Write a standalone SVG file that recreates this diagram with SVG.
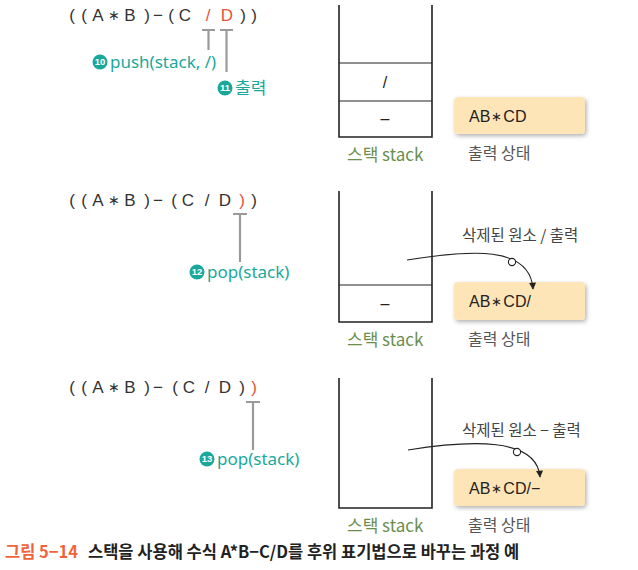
<svg xmlns="http://www.w3.org/2000/svg" width="638" height="570" viewBox="0 0 638 570">
<style>
.ex{font-family:"Liberation Sans","Noto Sans",sans-serif;font-size:17px;fill:#333;text-anchor:middle}
.exa{font-size:14px}
.red{fill:#e8533a}
.tick{stroke:#9a9a9a;stroke-width:2.2;fill:none}
.lbl{font-family:"Noto Sans","Noto Sans CJK KR",sans-serif;font-size:17px;fill:#1aa89c}
.num{font-family:"Liberation Sans",sans-serif;font-size:9.5px;font-weight:bold;fill:#fff;text-anchor:middle}
.badge{fill:#1aa89c}
.stk{stroke:#222;stroke-width:1.6;fill:none}
.div{stroke:#222;stroke-width:1.2}
.cell{font-family:"Liberation Sans",sans-serif;font-size:16px;fill:#222;text-anchor:middle}
.stl{font-family:"Noto Sans CJK KR",sans-serif;font-size:17px;fill:#6b8e4e}
.box{fill:#fde5b7}
.out{font-family:"Liberation Sans","Noto Sans",sans-serif;font-size:16px;fill:#222}
.ast{font-size:13px}
.ost{font-family:"Noto Sans CJK KR",sans-serif;font-size:16px;fill:#555}
.del{font-family:"Noto Sans CJK KR",sans-serif;font-size:15.5px;fill:#444}
.arr{stroke:#222;stroke-width:1.1;fill:none}
.cap{font-family:"Noto Sans CJK KR",sans-serif;font-size:16.5px;font-weight:bold}
</style>
<defs>
<filter id="sh" x="-10%" y="-20%" width="130%" height="160%">
<feDropShadow dx="1.5" dy="2" stdDeviation="2" flood-color="#000" flood-opacity="0.3"/>
</filter>
<marker id="ah" viewBox="0 0 10 10" refX="9" refY="5" markerWidth="9" markerHeight="7" orient="auto" markerUnits="userSpaceOnUse">
<path d="M0,0 L10,5 L0,10 z" fill="#222"/>
</marker>
</defs>

<g id="expr1">
<text class="ex" y="21"><tspan x="72">(</tspan><tspan x="84">(</tspan><tspan x="98">A</tspan><tspan x="114" class="exa" dy="-1">∗</tspan><tspan x="130" dy="1">B</tspan><tspan x="147">)</tspan><tspan x="158">−</tspan><tspan x="171">(</tspan><tspan x="185">C</tspan><tspan x="208" class="red">/</tspan><tspan x="227" class="red">D</tspan><tspan x="243">)</tspan><tspan x="254">)</tspan></text>
</g>
<g id="expr2">
<text class="ex" y="206"><tspan x="72">(</tspan><tspan x="84">(</tspan><tspan x="98">A</tspan><tspan x="114" class="exa" dy="-1">∗</tspan><tspan x="130" dy="1">B</tspan><tspan x="147">)</tspan><tspan x="158">−</tspan><tspan x="174">(</tspan><tspan x="188">C</tspan><tspan x="207">/</tspan><tspan x="225">D</tspan><tspan x="242" class="red">)</tspan><tspan x="254">)</tspan></text>
</g>
<g id="expr3">
<text class="ex" y="393"><tspan x="72">(</tspan><tspan x="84">(</tspan><tspan x="98">A</tspan><tspan x="114" class="exa" dy="-1">∗</tspan><tspan x="130" dy="1">B</tspan><tspan x="147">)</tspan><tspan x="158">−</tspan><tspan x="175">(</tspan><tspan x="189">C</tspan><tspan x="207">/</tspan><tspan x="225">D</tspan><tspan x="242">)</tspan><tspan x="254" class="red">)</tspan></text>
</g>

<g id="step10">
<circle class="badge" cx="100" cy="62" r="7.5"/>
<text class="num" x="100" y="65.4">10</text>
<text class="lbl" x="110" y="68">push(stack, /)</text>
</g>
<g id="step11">
<circle class="badge" cx="225" cy="88" r="7.5"/>
<text class="num" x="225" y="91.4">11</text>
<text class="lbl" x="235" y="94">출력</text>
</g>
<g id="step12">
<circle class="badge" cx="197" cy="272" r="7.5"/>
<text class="num" x="197" y="275.4">12</text>
<text class="lbl" x="207" y="278">pop(stack)</text>
</g>
<g id="step13">
<circle class="badge" cx="207" cy="459" r="7.5"/>
<text class="num" x="207" y="462.4">13</text>
<text class="lbl" x="217" y="465">pop(stack)</text>
</g>

<g id="stack1">
<path class="stk" d="M339,5 V137 H432 V5"/>
<line class="div" x1="339" y1="63" x2="432" y2="63"/>
<line class="div" x1="339" y1="101" x2="432" y2="101"/>
<text class="cell" x="385" y="88">/</text>
<text class="cell" x="385" y="124">–</text>
<text class="stl" x="347" y="161">스택 stack</text>
</g>
<g id="stack2">
<path class="stk" d="M339,191 V322 H432 V191"/>
<line class="div" x1="339" y1="285" x2="432" y2="285"/>
<text class="cell" x="385" y="309">–</text>
<text class="stl" x="347" y="346">스택 stack</text>
</g>
<g id="stack3">
<path class="stk" d="M339,378 V508 H432 V378"/>
<text class="stl" x="347" y="532">스택 stack</text>
</g>

<g id="out1">
<rect class="box" x="454" y="97" width="131" height="37" rx="4" filter="url(#sh)"/>
<text class="out" x="469" y="122">AB<tspan class="ast" dx="1" dy="-1">∗</tspan><tspan dx="1" dy="1">CD</tspan></text>
<text class="ost" x="468" y="159">출력 상태</text>
</g>
<g id="out2">
<rect class="box" x="454" y="282" width="131" height="38" rx="4" filter="url(#sh)"/>
<text class="out" x="469" y="307">AB<tspan class="ast" dx="1" dy="-1">∗</tspan><tspan dx="1" dy="1">CD/</tspan></text>
<text class="del" x="462" y="241">삭제된 원소 / 출력</text>
<text class="ost" x="468" y="345">출력 상태</text>
</g>
<g id="out3">
<rect class="box" x="454" y="469" width="131" height="37" rx="4" filter="url(#sh)"/>
<text class="out" x="469" y="494">AB<tspan class="ast" dx="1" dy="-1">∗</tspan><tspan dx="1" dy="1">CD/−</tspan></text>
<text class="del" x="462" y="436">삭제된 원소 − 출력</text>
<text class="ost" x="468" y="531">출력 상태</text>
</g>

<g id="connectors">
<path class="tick" d="M202,30 H215 M208.5,30 V50"/>
<path class="tick" d="M220,30 H233 M226.5,30 V72"/>
<path class="tick" d="M233,214 H247 M240,214 V262"/>
<path class="tick" d="M246,402 H260 M253,402 V450"/>
<path class="arr" d="M407,260 C470,250 530,245 533,289" marker-end="url(#ah)"/>
<circle cx="512" cy="262" r="3.6" fill="#fff" stroke="#222" stroke-width="1.1"/>
<path class="arr" d="M408,450 C470,440 537,437 540,477" marker-end="url(#ah)"/>
<circle cx="517" cy="452" r="3.6" fill="#fff" stroke="#222" stroke-width="1.1"/>
</g>

<g id="caption">
<text class="cap" x="5" y="558"><tspan fill="#f0643c">그림 5−14</tspan><tspan x="88" fill="#222">스택을 사용해 수식 A*B−C/D를 후위 표기법으로 바꾸는 과정 예</tspan></text>
</g>
</svg>
